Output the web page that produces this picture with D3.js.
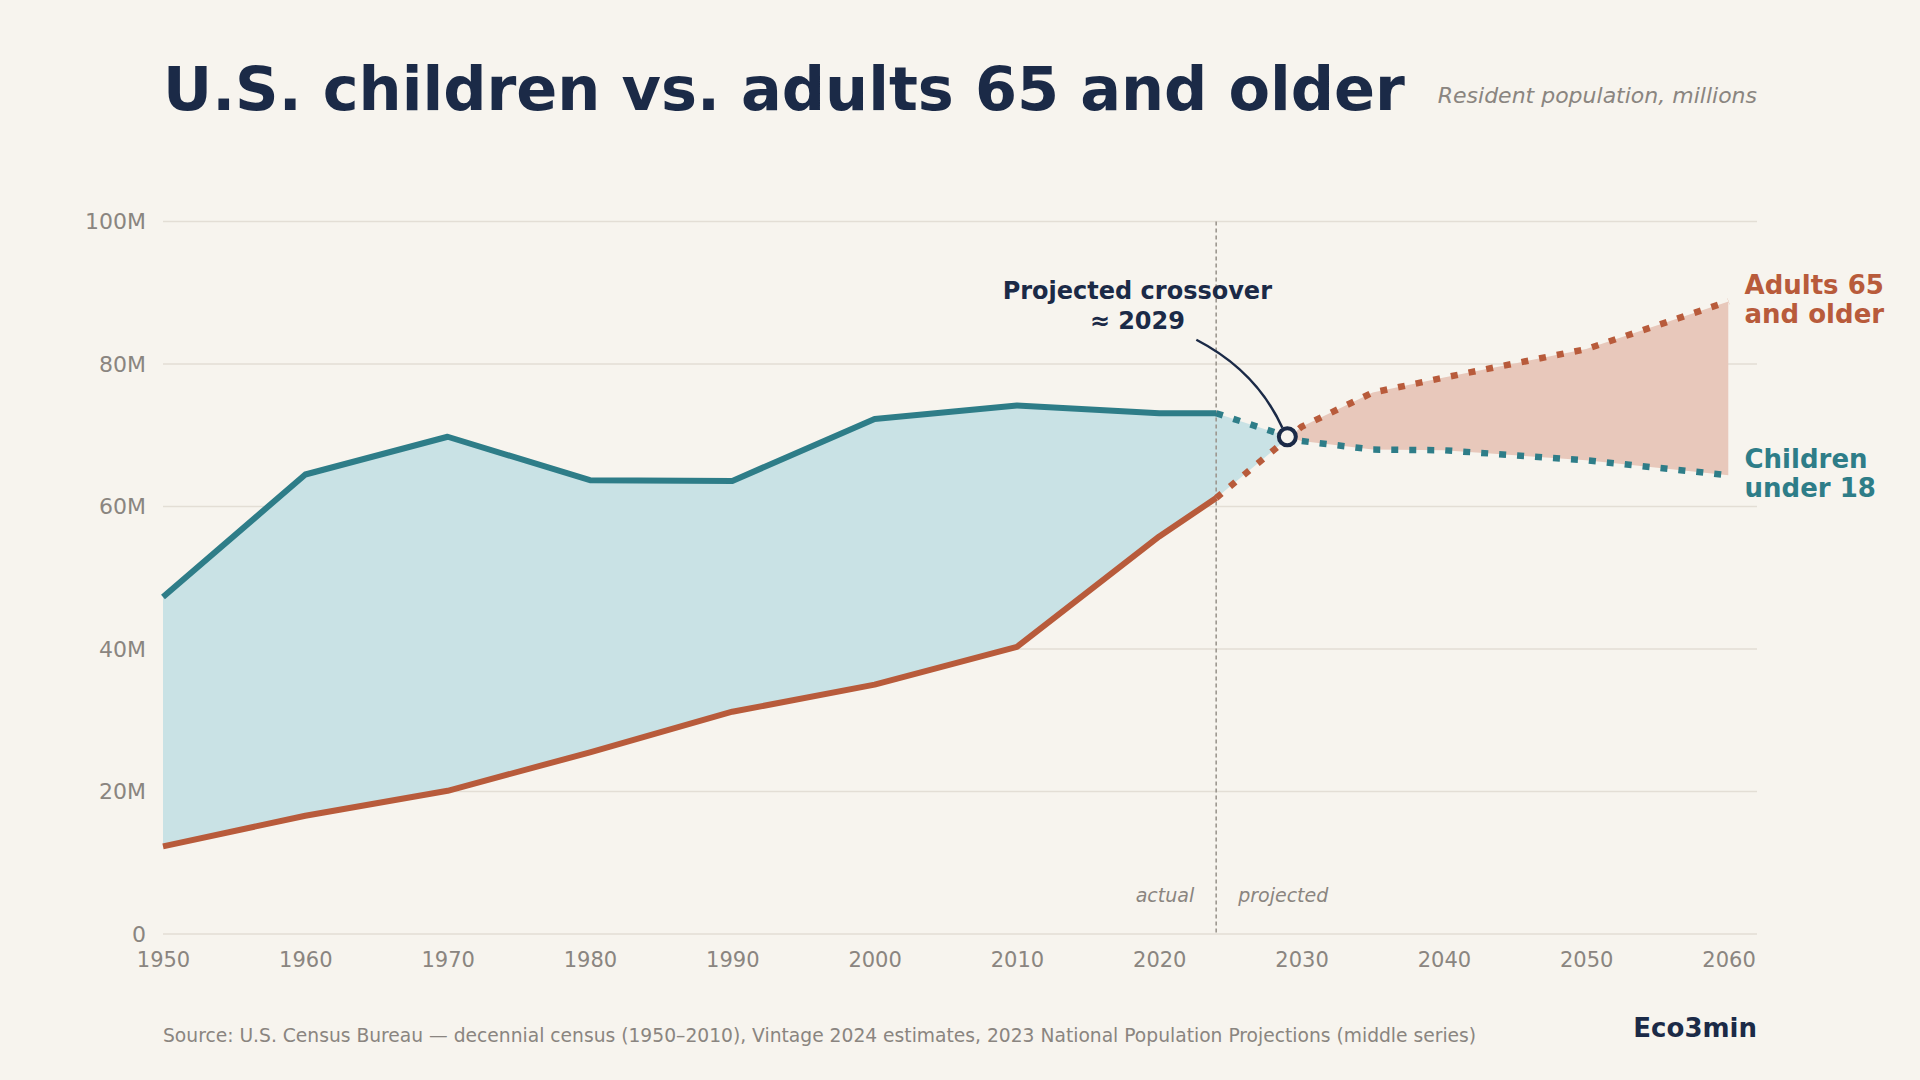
<!DOCTYPE html>
<html><head><meta charset="utf-8">
<script src="https://cdn.jsdelivr.net/npm/d3@7"></script>
<style>
html,body{margin:0;padding:0;background:#f7f4ee;}
svg{display:block;font-family:"DejaVu Sans",sans-serif;}
</style></head><body>
<svg id="chart" width="1920" height="1080"></svg>
<script>
// ---- data ----
const actualYears = [1950, 1960, 1970, 1980, 1990, 2000, 2010, 2020, 2024];
const childrenActual = [47.3, 64.5, 69.8, 63.7, 63.6, 72.3, 74.2, 73.1, 73.1];
const seniorsActual = [12.3, 16.6, 20.1, 25.5, 31.2, 35.0, 40.3, 55.8, 61.2];
const projYears = [2024, 2030, 2035, 2040, 2050, 2060];
const childrenProj = [73.1, 69.2, 68.0, 67.9, 66.5, 64.4];
const seniorsProj = [61.2, 71.2, 76.0, 78.1, 82.1, 88.8];
const xTicks = [1950, 1960, 1970, 1980, 1990, 2000, 2010, 2020, 2030, 2040, 2050, 2060];
const yTicks = [0, 20, 40, 60, 80, 100];
const yTickLabels = ["0", "20M", "40M", "60M", "80M", "100M"];
const splitYear = 2024;
const crossover = { year: 2029, value: 69.8 };

// ---- styles ----
const C = {
  bg: "#f7f4ee", navy: "#1b2a47", teal: "#2e7d88", tealFill: "#c9e2e5",
  rust: "#b85b3b", rustFill: "#e8c8bb", grid: "#e3ded5", grey: "#8a8580"
};

const svg = d3.select("#chart");
svg.append("rect").attr("width", 1920).attr("height", 1080).attr("fill", C.bg);

const x = d3.scaleLinear().domain([1950, 2062]).range([163, 1757]);
const y = d3.scaleLinear().domain([0, 100]).range([934, 221.6]);

// merged series
const allYears = actualYears.concat(projYears.slice(1));
const childrenAll = childrenActual.concat(childrenProj.slice(1));
const seniorsAll = seniorsActual.concat(seniorsProj.slice(1));
const merged = allYears.map((yr, i) => ({ yr, c: childrenAll[i], s: seniorsAll[i] }));

// ---- grid ----
const grid = svg.append("g");
grid.selectAll("line").data(yTicks).join("line")
  .attr("x1", x.range()[0]).attr("x2", x.range()[1])
  .attr("y1", d => y(d)).attr("y2", d => y(d))
  .attr("stroke", C.grid).attr("stroke-width", 1.5);

// ---- areas via clip paths ----
const defs = svg.append("defs");
const belowArea = key => d3.area().x(d => x(d.yr)).y0(y(0)).y1(d => y(d[key]));
const aboveArea = key => d3.area().x(d => x(d.yr)).y0(y(100) - 200).y1(d => y(d[key]));
defs.append("clipPath").attr("id", "belowC").append("path").attr("d", belowArea("c")(merged));
defs.append("clipPath").attr("id", "belowS").append("path").attr("d", belowArea("s")(merged));

svg.append("path").attr("d", aboveArea("s")(merged))
  .attr("clip-path", "url(#belowC)").attr("fill", C.tealFill);
svg.append("path").attr("d", aboveArea("c")(merged))
  .attr("clip-path", "url(#belowS)").attr("fill", C.rustFill);

// ---- split line ----
svg.append("line")
  .attr("x1", x(splitYear)).attr("x2", x(splitYear))
  .attr("y1", y(100)).attr("y2", y(0))
  .attr("stroke", "#9d978f").attr("stroke-width", 1.6).attr("stroke-dasharray", "4,3");

svg.append("text").attr("x", x(splitYear) - 22).attr("y", y(0) - 32)
  .attr("text-anchor", "end").attr("font-style", "italic").attr("font-size", 19)
  .attr("fill", C.grey).text("actual");
svg.append("text").attr("x", x(splitYear) + 22).attr("y", y(0) - 32)
  .attr("text-anchor", "start").attr("font-style", "italic").attr("font-size", 19)
  .attr("fill", C.grey).text("projected");

// ---- lines ----
const line = d3.line().x(d => x(d[0])).y(d => y(d[1]));
const zipS = (ys, vs) => ys.map((yr, i) => [yr, vs[i]]);

svg.append("path").attr("d", line(zipS(actualYears, childrenActual)))
  .attr("fill", "none").attr("stroke", C.teal).attr("stroke-width", 6).attr("stroke-linejoin", "round");
svg.append("path").attr("d", line(zipS(actualYears, seniorsActual)))
  .attr("fill", "none").attr("stroke", C.rust).attr("stroke-width", 6).attr("stroke-linejoin", "round");
svg.append("path").attr("d", line(zipS(projYears, childrenProj)))
  .attr("fill", "none").attr("stroke", C.teal).attr("stroke-width", 6.5).attr("stroke-dasharray", "7,11");
svg.append("path").attr("d", line(zipS(projYears, seniorsProj)))
  .attr("fill", "none").attr("stroke", C.rust).attr("stroke-width", 6.5).attr("stroke-dasharray", "7,11");

// ---- axes ----
const yAxis = svg.append("g").attr("transform", `translate(${x.range()[0]},0)`)
  .call(d3.axisLeft(y).tickValues(yTicks).tickFormat((d, i) => yTickLabels[i]).tickSize(0).tickPadding(17));
yAxis.select(".domain").remove();
yAxis.selectAll("text").attr("font-size", 22).attr("fill", C.grey).attr("font-family", "DejaVu Sans");

const xAxis = svg.append("g").attr("transform", `translate(0,${y(0)})`)
  .call(d3.axisBottom(x).tickValues(xTicks).tickFormat(d3.format("d")).tickSize(0).tickPadding(18));
xAxis.select(".domain").remove();
xAxis.selectAll("text").attr("font-size", 21).attr("fill", C.grey).attr("font-family", "DejaVu Sans");

// ---- crossover annotation ----
const cx = x(crossover.year), cy = y(crossover.value);
svg.append("path")
  .attr("d", `M${cx - 91},${cy - 97} Q${cx - 31},${cy - 66} ${cx - 5},${cy - 9}`)
  .attr("fill", "none").attr("stroke", C.navy).attr("stroke-width", 2.5);
svg.append("circle").attr("cx", cx).attr("cy", cy).attr("r", 8.5)
  .attr("fill", C.bg).attr("stroke", C.navy).attr("stroke-width", 4);
const ann = svg.append("text").attr("text-anchor", "middle").attr("font-weight", "bold")
  .attr("font-size", 24).attr("fill", C.navy);
ann.append("tspan").attr("x", cx - 150).attr("y", cy - 138).text("Projected crossover");
ann.append("tspan").attr("x", cx - 150).attr("y", cy - 108).text("≈ 2029");

// ---- end labels ----
const lastYear = projYears[projYears.length - 1];
const endLabel = (val, lines, color) => {
  const t = svg.append("text").attr("font-weight", "bold").attr("font-size", 26).attr("fill", color);
  lines.forEach((s, i) => t.append("tspan").attr("x", x(lastYear) + 16).attr("y", y(val) - 7 + i * 29).text(s));
};
endLabel(seniorsProj[seniorsProj.length - 1], ["Adults 65", "and older"], C.rust);
endLabel(childrenProj[childrenProj.length - 1], ["Children", "under 18"], C.teal);

// ---- titles ----
svg.append("text").attr("x", 163).attr("y", 110).attr("font-size", 60.5).attr("font-weight", "bold")
  .attr("fill", C.navy).text("U.S. children vs. adults 65 and older");
svg.append("text").attr("x", 1757).attr("y", 103).attr("text-anchor", "end").attr("font-size", 22)
  .attr("font-style", "italic").attr("fill", C.grey).text("Resident population, millions");

svg.append("text").attr("x", 163).attr("y", 1042).attr("font-size", 18.7).attr("fill", C.grey)
  .text("Source: U.S. Census Bureau — decennial census (1950–2010), Vintage 2024 estimates, 2023 National Population Projections (middle series)");
svg.append("text").attr("x", 1757).attr("y", 1037).attr("text-anchor", "end").attr("font-size", 26)
  .attr("font-weight", "bold").attr("fill", C.navy).text("Eco3min");
</script>
</body></html>
